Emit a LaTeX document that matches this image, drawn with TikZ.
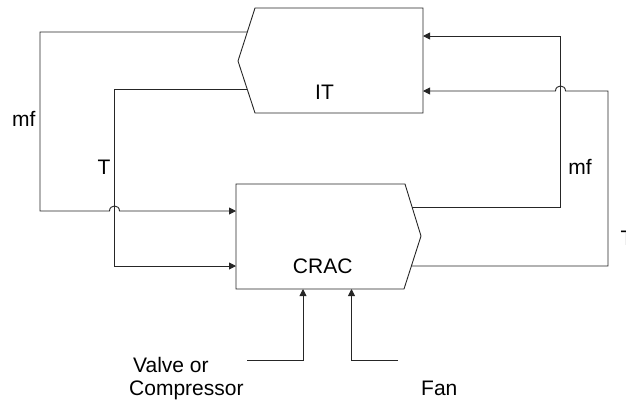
\documentclass[tikz,border=0pt]{standalone}
\usepackage{fontspec}
\setmainfont{Liberation Sans}
\usetikzlibrary{arrows.meta}
\begin{document}
\begin{tikzpicture}[x=1bp,y=-1bp,
  wire/.style={draw=black!85,line width=0.9bp},
  sig/.style={wire,-{Triangle[length=7bp,width=7bp]}},
  lbl/.style={inner sep=0pt,font=\fontsize{21bp}{25bp}\selectfont}]
\useasboundingbox (0,0) rectangle (626,401);
% IT block
\coordinate (ITtl) at (255,8);
\coordinate (ITtr) at (423,8);
\coordinate (ITbr) at (423,113);
\coordinate (ITbl) at (255,113);
\coordinate (ITnotch) at (238,61);
\draw[wire] (ITtl) -- (ITtr) -- (ITbr) -- (ITbl) -- (ITnotch) -- cycle;
% CRAC block
\coordinate (Ctl) at (236,184);
\coordinate (Ctr) at (405,184);
\coordinate (Ctip) at (421,236);
\coordinate (Cbr) at (404,289);
\coordinate (Cbl) at (236,289);
\draw[wire] (Ctl) -- (Ctr) -- (Ctip) -- (Cbr) -- (Cbl) -- cycle;
% ports
\coordinate (ITmfout) at (247.3,32);
\coordinate (ITTout) at (247.2,89);
\coordinate (ITmfin) at (423,36);
\coordinate (ITTin) at (423,91);
\coordinate (Cmfin) at (236,211);
\coordinate (CTin) at (236,266);
\coordinate (Cmfout) at (412,207);
\coordinate (CTout) at (411.4,266);
\coordinate (Cvalve) at (303,289);
\coordinate (Cfan) at (351.5,289);
\coordinate (valveend) at (247,360);
\coordinate (fanend) at (398,360);
% IT -> CRAC mass flow (with hop)
\draw[sig] (ITmfout) -- (40,32) -- (40,211) -- (109.5,211)
  .. controls (109.5,204.3) and (119.5,204.3) .. (119.5,211) -- (Cmfin);
% IT -> CRAC temperature
\draw[sig] (ITTout) -- (114.5,89) -- (114.5,266) -- (CTin);
% CRAC -> IT mass flow
\draw[sig] (Cmfout) -- (560.5,207) -- (560.5,36) -- (ITmfin);
% CRAC -> IT temperature (with hop)
\draw[sig] (CTout) -- (608,266) -- (608,91) -- (565.5,91)
  .. controls (565.5,84.3) and (555.5,84.3) .. (555.5,91) -- (ITTin);
% control inputs
\draw[sig] (valveend) -- (303,360) -- (Cvalve);
\draw[sig] (fanend) -- (351.5,360) -- (Cfan);
% labels
\node[lbl,anchor=base] (itl) at (324.5,99) {IT};
\node[lbl,anchor=base] (cracl) at (322.7,273) {CRAC};
\node[lbl,anchor=base west] (mfl) at (12,126) {mf};
\node[lbl,anchor=base] (tl) at (104,174) {T};
\node[lbl,anchor=base] (mfr) at (580,174) {mf};
\node[lbl,anchor=base west] (tr) at (620.5,245) {T};
\node[lbl,anchor=base west] (valve) at (133,372) {Valve or};
\node[lbl,anchor=base west] (comp) at (129,395) {Compressor};
\node[lbl,anchor=base west] (fan) at (421,395) {Fan};
\end{tikzpicture}
\end{document}
